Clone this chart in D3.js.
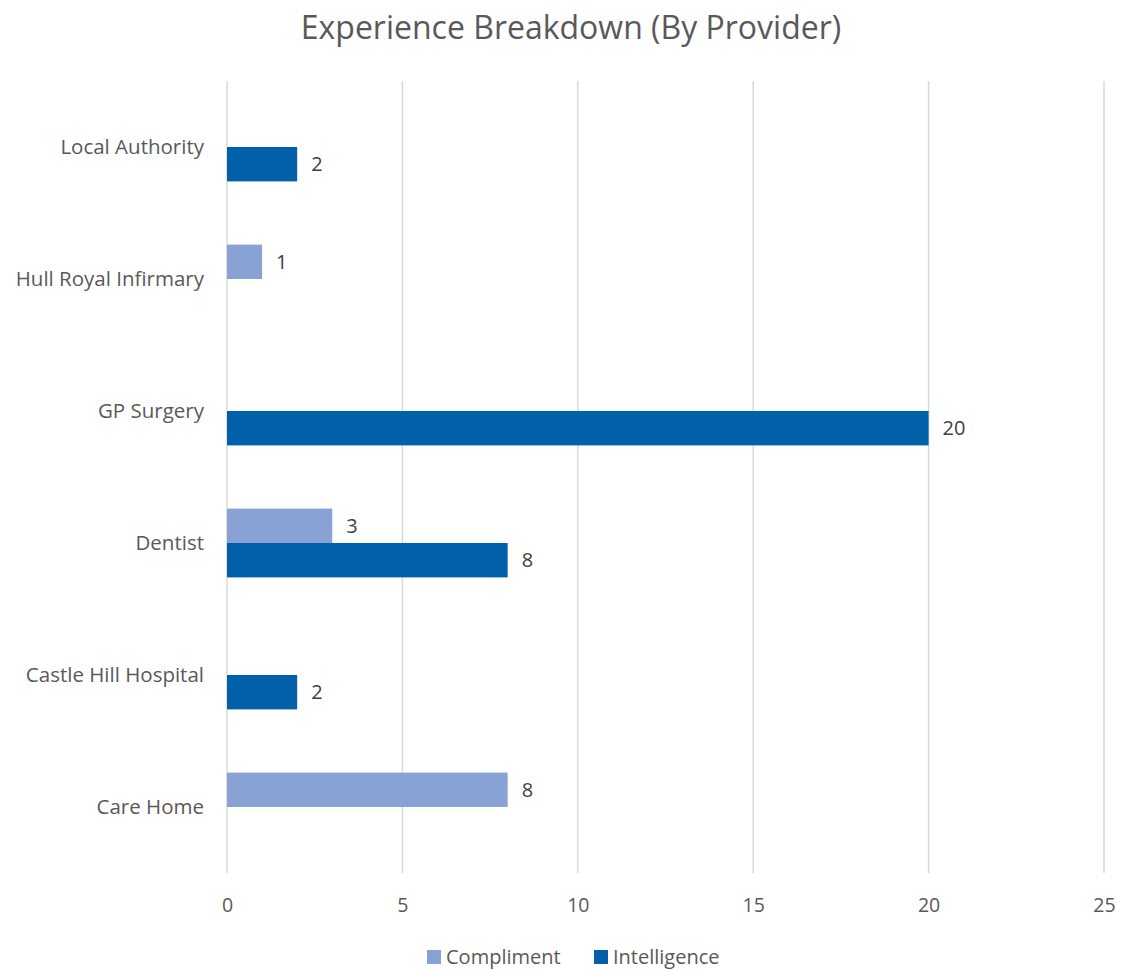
<!DOCTYPE html>
<html>
<head>
<meta charset="utf-8">
<script src="https://cdn.jsdelivr.net/npm/d3@7"></script>
<style>
  html, body { margin: 0; padding: 0; background: #fff; }
  svg { display: block; font-family: "Open Sans", "Liberation Sans", sans-serif; }
</style>
</head>
<body>
<svg id="chart" width="1123" height="971"></svg>
<script>
// Providers listed top to bottom
const categories = ["Local Authority", "Hull Royal Infirmary", "GP Surgery", "Dentist", "Castle Hill Hospital", "Care Home"];
const seriesNames = ["Compliment", "Intelligence"];
// null = no entry for that provider
const compliment = [null, 1, null, 3, null, 8];
const intelligence = [2, null, 20, 8, 2, null];
const xTicks = [0, 5, 10, 15, 20, 25];
const colors = ["#88a3d3", "#0061aa"];

const svg = d3.select("#chart");
const plot = { left: 227, right: 1104, top: 81, bottom: 873 };

const x = d3.scaleLinear().domain([0, 25]).range([plot.left, plot.right]);
const inner = 1 - 68.8 / 132;
const y = d3.scaleBand().domain(categories).range([plot.top, plot.bottom])
  .paddingInner(inner).paddingOuter(inner / 2);
const ySub = d3.scaleBand().domain(seriesNames).range([0, y.bandwidth()]);

// Title
svg.append("text")
  .attr("x", (297 + 845) / 2).attr("y", 39)
  .attr("text-anchor", "middle")
  .attr("font-size", 32)
  .attr("fill", "#595959")
  .text("Experience Breakdown (By Provider)");

// Vertical gridlines
svg.append("g").selectAll("line").data(xTicks).join("line")
  .attr("x1", d => x(d)).attr("x2", d => x(d))
  .attr("y1", plot.top).attr("y2", plot.bottom)
  .attr("stroke", "#d9d9d9").attr("stroke-width", 1.5);

// X axis tick labels
const xAxis = d3.axisBottom(x).tickValues(xTicks).tickSize(0).tickPadding(0);
const gx = svg.append("g").attr("transform", `translate(0,${plot.bottom})`).call(xAxis);
gx.select(".domain").remove();
gx.selectAll("text")
  .attr("dy", null).attr("y", 39)
  .attr("font-family", "\"Open Sans\", sans-serif")
  .attr("font-size", 19.5).attr("fill", "#595959");

// Category labels
const yAxis = d3.axisLeft(y).tickSize(0).tickPadding(0);
const gy = svg.append("g").attr("transform", `translate(${plot.left - 23},0)`).call(yAxis);
gy.select(".domain").remove();
gy.selectAll("text")
  .attr("font-family", "\"Open Sans\", sans-serif")
  .attr("font-size", 20.5).attr("fill", "#595959");

// Bars
const rows = [];
categories.forEach((c, i) => {
  [compliment[i], intelligence[i]].forEach((v, s) => {
    if (v !== null) rows.push({ cat: c, series: seriesNames[s], value: v, color: colors[s] });
  });
});

svg.append("g").selectAll("rect").data(rows).join("rect")
  .attr("x", x(0))
  .attr("y", d => y(d.cat) + ySub(d.series))
  .attr("width", d => x(d.value) - x(0))
  .attr("height", ySub.bandwidth())
  .attr("fill", d => d.color);

// Value labels
svg.append("g").selectAll("text").data(rows).join("text")
  .attr("x", d => x(d.value) + 14)
  .attr("y", d => y(d.cat) + ySub(d.series) + ySub.bandwidth() / 2)
  .attr("dy", "0.35em")
  .attr("font-size", 20)
  .attr("fill", "#404040")
  .text(d => d.value);

// Legend
const legend = svg.append("g");
const legendX = [427, 594];
seriesNames.forEach((name, i) => {
  legend.append("rect")
    .attr("x", legendX[i]).attr("y", 950)
    .attr("width", 14).attr("height", 14)
    .attr("fill", colors[i]);
  legend.append("text")
    .attr("x", legendX[i] + 19).attr("y", 957)
    .attr("dy", "0.35em")
    .attr("font-size", 20)
    .attr("fill", "#595959")
    .text(name);
});
</script>
</body>
</html>
